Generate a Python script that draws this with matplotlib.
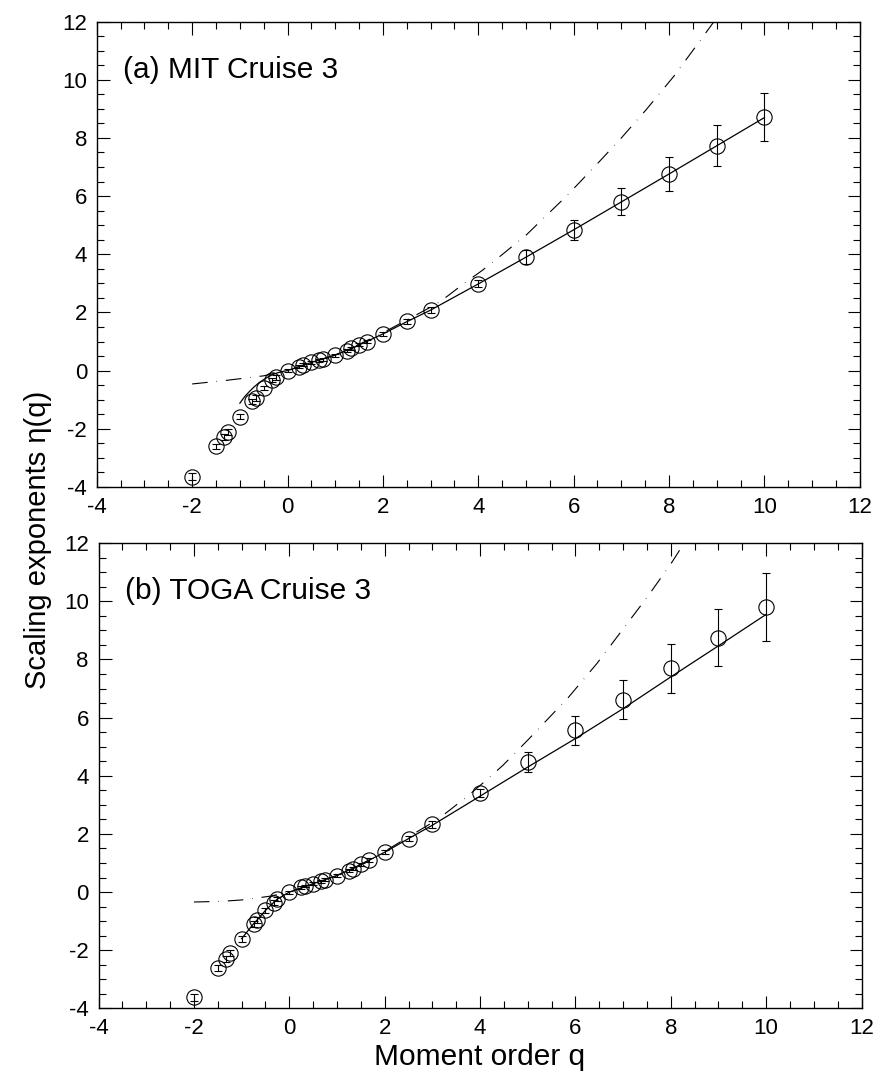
import numpy as np
import matplotlib.pyplot as plt

plt.rcParams['font.family'] = ['Liberation Sans', 'DejaVu Sans']
plt.rcParams['axes.unicode_minus'] = False

# moment orders of the measured exponents
q = [-2, -1.5, -1.33, -1.25, -1, -0.75, -0.67, -0.5, -0.33, -0.25, 0,
     0.25, 0.33, 0.5, 0.67, 0.75, 1, 1.25, 1.33, 1.5, 1.67, 2, 2.5, 3,
     4, 5, 6, 7, 8, 9, 10]

# (a) MIT Cruise 3
eta_a = [-3.65, -2.61, -2.27, -2.10, -1.58, -1.06, -0.93, -0.60, -0.32, -0.23, 0.0,
         0.14, 0.20, 0.28, 0.35, 0.39, 0.53, 0.69, 0.76, 0.89, 1.00, 1.27, 1.69, 2.09,
         2.98, 3.90, 4.84, 5.81, 6.77, 7.74, 8.72]
err_a = [0.12, 0.10, 0.10, 0.10, 0.10, 0.10, 0.10, 0.08, 0.08, 0.08, 0.05,
         0.05, 0.05, 0.05, 0.05, 0.05, 0.05, 0.05, 0.05, 0.06, 0.06, 0.07, 0.08, 0.10,
         0.12, 0.23, 0.35, 0.46, 0.59, 0.70, 0.82]
fit_q_a = [-1.0, -0.9, -0.8, -0.7, -0.6, -0.5, -0.4, -0.3, -0.2, -0.1, 0, 0.5, 1, 1.5, 2,
           2.5, 3, 4, 5, 6, 7, 8, 9, 10]
fit_a = [-1.12, -0.90, -0.72, -0.56, -0.42, -0.31, -0.21, -0.13, -0.07, -0.03, 0.0, 0.28,
         0.53, 0.88, 1.26, 1.68, 2.08, 2.98, 3.90, 4.84, 5.80, 6.76, 7.73, 8.70]
mod_q_a = [-2.0, -1.3, -0.5, 0, 0.5, 1, 1.5, 2, 2.5, 3.09, 3.37, 3.71, 4.08, 4.45, 5.01,
           5.88, 6.54, 7.0, 7.52, 8.10, 8.64, 8.92, 9.1]
mod_a = [-0.46, -0.34, -0.18, 0.0, 0.28, 0.54, 0.90, 1.30, 1.74, 2.26, 2.58, 3.01, 3.44,
         3.92, 4.67, 6.05, 7.19, 8.00, 8.97, 10.12, 11.32, 11.95, 12.4]

# (b) TOGA Cruise 3
eta_b = [-3.62, -2.60, -2.29, -2.10, -1.60, -1.09, -0.95, -0.63, -0.36, -0.24, 0.0,
         0.17, 0.21, 0.29, 0.38, 0.42, 0.57, 0.74, 0.80, 0.95, 1.10, 1.37, 1.84, 2.33,
         3.41, 4.48, 5.56, 6.62, 7.69, 8.75, 9.81]
err_b = [0.12, 0.10, 0.10, 0.10, 0.10, 0.10, 0.10, 0.08, 0.08, 0.08, 0.05,
         0.05, 0.05, 0.05, 0.05, 0.05, 0.05, 0.05, 0.05, 0.06, 0.06, 0.07, 0.08, 0.12,
         0.15, 0.35, 0.49, 0.66, 0.83, 0.99, 1.17]
fit_q_b = [-1, -0.75, -0.67, -0.5, -0.33, -0.25, 0, 0.5, 1, 1.5, 2, 2.5, 3,
           4, 5, 6, 7, 8, 9, 10]
fit_b = [-1.60, -1.09, -0.95, -0.63, -0.36, -0.24, 0.0, 0.29, 0.57, 0.95, 1.37, 1.84, 2.30,
         3.30, 4.30, 5.28, 6.31, 7.40, 8.47, 9.55]
mod_q_b = [-2.0, -1.44, -1.0, -0.4, 0, 0.5, 1, 1.5, 2, 2.5, 3.1, 3.38, 3.76, 4.11, 4.48,
           5.02, 5.86, 6.45, 7.01, 7.54, 8.03, 8.28, 8.5]
mod_b = [-0.34, -0.32, -0.27, -0.14, 0.0, 0.28, 0.57, 0.95, 1.40, 1.90, 2.49, 2.84, 3.33,
         3.82, 4.36, 5.26, 6.71, 7.86, 9.07, 10.22, 11.36, 12.0, 12.5]

panels = [
    ('(a) MIT Cruise 3', eta_a, err_a, fit_q_a, fit_a, mod_q_a, mod_a),
    ('(b) TOGA Cruise 3', eta_b, err_b, fit_q_b, fit_b, mod_q_b, mod_b),
]

fig = plt.figure(figsize=(8.8, 10.82), dpi=100)
rects = [[0.110, 0.550, 0.867, 0.430], [0.112, 0.068, 0.867, 0.430]]

for rect, (label, eta, err, fq, fv, mq, mv) in zip(rects, panels):
    ax = fig.add_axes(rect)
    ax.plot(mq, mv, color='black', lw=0.8, dashes=(14, 8, 0.5, 8))
    ax.plot(fq, fv, color='black', lw=0.9)
    ax.errorbar(q, eta, yerr=err, fmt='o', ms=11, mfc='none', mec='black', mew=0.8,
                ecolor='black', elinewidth=0.8, capsize=3.2, capthick=0.8)
    ax.set_xlim(-4, 12)
    ax.set_ylim(-4, 12)
    ax.set_xticks(np.arange(-4, 13, 2))
    ax.set_yticks(np.arange(-4, 13, 2))
    ax.set_xticks(np.arange(-4, 12.1, 0.5), minor=True)
    ax.set_yticks(np.arange(-4, 12.1, 0.5), minor=True)
    ax.tick_params(which='both', direction='in', top=True, right=True,
                   labelsize=16, width=0.8)
    ax.tick_params(which='major', length=9, pad=7)
    ax.tick_params(which='minor', length=4.8)
    for s in ax.spines.values():
        s.set_linewidth(1.0)
    ax.text(0.034, 0.897, label, transform=ax.transAxes, fontsize=21.5, va='center')

ax.set_xlabel('Moment order q', fontsize=21.5, labelpad=3)
fig.text(0.043, 0.501, 'Scaling exponents η(q)', rotation=90, fontsize=21,
         ha='center', va='center')

fig.savefig('out.png', dpi=100)
